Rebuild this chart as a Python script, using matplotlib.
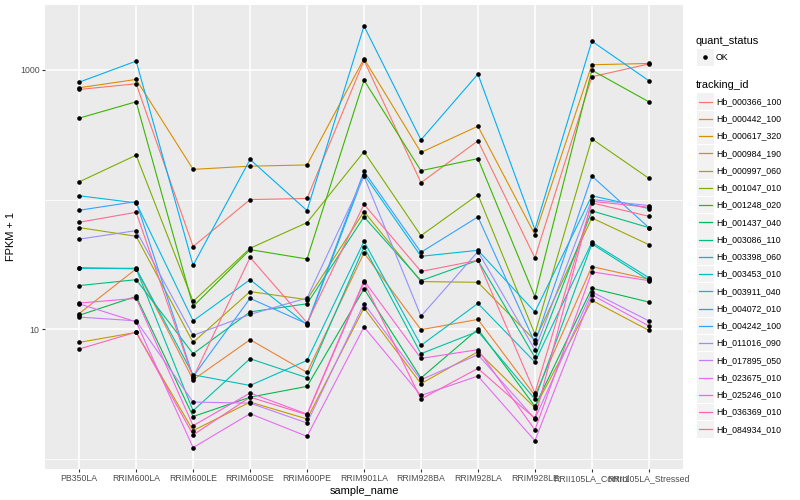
import numpy as np
import matplotlib
matplotlib.use("Agg")
import matplotlib.pyplot as plt
from matplotlib.patches import Rectangle
from matplotlib.lines import Line2D
from matplotlib.ticker import NullFormatter

plt.rcParams['font.family'] = ['Liberation Sans', 'DejaVu Sans']

# ---- data (FPKM + 1) ----
samples = ["PB350LA", "RRIM600LA", "RRIM600LE", "RRIM600SE", "RRIM600PE",
           "RRIM901LA", "RRIM928BA", "RRIM928LA", "RRIM928LE",
           "RRII105LA_Control", "RRII105LA_Stressed"]

tracking_ids = ["Hb_000366_100", "Hb_000442_100", "Hb_000617_320", "Hb_000984_190",
                "Hb_000997_060", "Hb_001047_010", "Hb_001248_020", "Hb_001437_040",
                "Hb_003086_110", "Hb_003398_060", "Hb_003453_010", "Hb_003911_040",
                "Hb_004072_010", "Hb_004242_100", "Hb_011016_090", "Hb_017895_050",
                "Hb_023675_010", "Hb_025246_010", "Hb_036369_010", "Hb_084934_010"]

hb_000366 = [707, 782, 43.4, 100, 102, 1184, 135, 284, 35.5, 886, 1112]
hb_000442 = [13.2, 29.2, 4.07, 8.30, 4.64, 38.8, 9.91, 11.9, 3.08, 30.4, 24.3]
hb_000617 = [729, 845, 171, 181, 185, 1220, 231, 368, 53.7, 1097, 1122]
hb_000984 = [7.91, 9.45, 1.65, 2.74, 2.03, 14.6, 3.80, 6.70, 2.48, 16.7, 9.79]
hb_000997 = [60.8, 52.1, 7.91, 19.5, 16.9, 80.8, 23.3, 23.0, 8.19, 72.2, 44.9]
hb_001047 = [137, 220, 16.4, 42.1, 66.4, 234, 52.7, 109, 9.18, 294, 146]
hb_001248 = [425, 568, 15.0, 41.1, 34.8, 834, 167, 207, 17.8, 996, 568]
hb_001437 = [12.8, 17.9, 2.12, 2.99, 3.62, 20.5, 4.20, 10.0, 2.54, 20.7, 16.2]
hb_003086 = [21.7, 24.1, 6.47, 13.6, 15.7, 73.5, 23.7, 34.0, 6.06, 81.8, 60.8]
hb_003398 = [29.8, 29.2, 2.35, 5.92, 4.22, 43.1, 6.47, 9.62, 2.89, 45.5, 23.9]
hb_003453 = [29.5, 29.5, 4.45, 3.68, 5.74, 47.6, 7.50, 15.8, 5.58, 46.8, 25.0]
hb_003911 = [107, 94.3, 11.6, 24.1, 10.8, 156, 36.5, 40.6, 13.6, 107, 85.3]
hb_004072 = [805, 1170, 31.1, 204, 82.2, 2180, 289, 929, 58.7, 1668, 826]
hb_004242 = [82.7, 96.5, 4.30, 17.3, 11.0, 165, 39.2, 73.5, 7.87, 152, 60.8]
hb_011016 = [49.5, 57.6, 8.96, 13.0, 17.4, 151, 12.6, 39.7, 6.95, 100, 89.9]
hb_017895 = [12.4, 11.6, 2.74, 2.69, 1.89, 15.7, 4.07, 6.36, 2.03, 19.4, 11.6]
hb_023675 = [15.7, 11.4, 1.22, 2.23, 1.49, 10.4, 3.08, 4.35, 1.38, 18.4, 10.6]
hb_025246 = [15.9, 17.3, 1.80, 3.22, 2.21, 23.7, 5.95, 6.95, 1.67, 27.7, 23.7]
hb_036369 = [7.03, 9.5, 1.53, 2.99, 2.19, 23.0, 2.89, 4.98, 2.05, 97.0, 87.2]
hb_084934 = [66.8, 79.8, 4.22, 35.8, 11.2, 92.0, 27.9, 34.0, 3.22, 94.3, 74.3]

series = [hb_000366, hb_000442, hb_000617, hb_000984, hb_000997, hb_001047,
          hb_001248, hb_001437, hb_003086, hb_003398, hb_003453, hb_003911,
          hb_004072, hb_004242, hb_011016, hb_017895, hb_023675, hb_025246,
          hb_036369, hb_084934]

# ggplot2 default hue palette, 20 levels
colors = ["#F8766D", "#EA8331", "#D89000", "#C09B00", "#A3A500", "#7CAE00",
          "#39B600", "#00BB4E", "#00BF7D", "#00C1A3", "#00BFC4", "#00BAE0",
          "#00B0F6", "#35A2FF", "#9590FF", "#C77CFF", "#E76BF3", "#FA62DB",
          "#FF62BC", "#FF6C91"]

W, H = 800, 500
fig = plt.figure(figsize=(W / 100, H / 100), dpi=100)
fig.patch.set_facecolor('white')

def fx(px):
    return px / W

def fy(py):
    return 1 - py / H

# panel
ax = fig.add_axes([fx(45), fy(468.7), (683 - 45) / W, (468.7 - 5) / H])
ax.set_facecolor('#EBEBEB')
for s in ax.spines.values():
    s.set_visible(False)

x = np.arange(len(samples))
for vals, col in zip(series, colors):
    ax.plot(x, vals, color=col, lw=0.8, zorder=2, solid_capstyle='round')
for vals in series:
    ax.plot(x, vals, 'o', color='black', ms=3.3, mew=0, zorder=3)

ax.set_yscale('log')
allv = np.log10(np.concatenate([np.asarray(v, float) for v in series]))
lo, hi = allv.min(), allv.max()
pad = 0.05 * (hi - lo)
ax.set_ylim(10 ** (lo - pad), 10 ** (hi + pad))
ax.set_xlim(-0.6, len(samples) - 0.4)

ax.set_yticks([10, 1000])
ax.set_yticklabels(['10', '1000'])
ax.set_yticks([1, 100], minor=True)
ax.yaxis.set_minor_formatter(NullFormatter())
ax.set_xticks(x)
ax.set_xticklabels(samples)

ax.set_axisbelow(True)
ax.grid(which='major', color='white', lw=1.1)
ax.grid(which='minor', axis='y', color='white', lw=0.55)
ax.tick_params(which='major', length=2.2, width=0.8, color='#333333',
               labelsize=6.3, labelcolor='#4D4D4D', pad=1.8)
ax.tick_params(which='minor', length=0)

ax.set_xlabel('sample_name', fontsize=7.9, labelpad=2)
ax.set_ylabel('FPKM + 1', fontsize=7.9, labelpad=3)

# ---- legends (drawn by hand, ggplot style) ----
fig.text(fx(696), fy(40.5), 'quant_status', fontsize=7.9, va='center', ha='left')
fig.patches.append(Rectangle((fx(697), fy(57.3 + 8.4)), 16.6 / W, 16.8 / H,
                             transform=fig.transFigure, facecolor='#F2F2F2',
                             edgecolor='none'))
fig.lines.append(Line2D([fx(705.2)], [fy(57.3)], marker='o', color='black',
                        ms=3.3, mew=0, transform=fig.transFigure))
fig.text(fx(716), fy(57.3), 'OK', fontsize=6.3, va='center', ha='left')

fig.text(fx(696), fy(85), 'tracking_id', fontsize=7.9, va='center', ha='left')
for i, (name, col) in enumerate(zip(tracking_ids, colors)):
    yc = 101.7 + i * 17.24
    fig.patches.append(Rectangle((fx(697), fy(yc + 8.3)), 16.6 / W, 16.6 / H,
                                 transform=fig.transFigure, facecolor='#F2F2F2',
                                 edgecolor='none'))
    fig.lines.append(Line2D([fx(698.5), fx(711.5)], [fy(yc), fy(yc)], color=col,
                            lw=0.9, transform=fig.transFigure))
    fig.text(fx(716), fy(yc), name, fontsize=6.3, va='center', ha='left')

fig.savefig('out.png', dpi=100)
